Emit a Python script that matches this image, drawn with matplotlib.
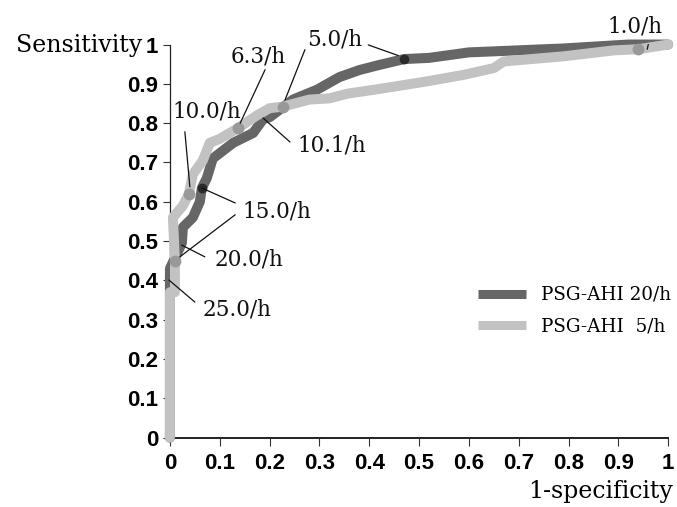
import matplotlib
matplotlib.use("Agg")
import matplotlib.pyplot as plt

# ROC curve points (1-specificity, sensitivity)
fpr_20 = [0.0, 0.0, 0.0, 0.0, 0.024, 0.026, 0.046, 0.06, 0.064, 0.074, 0.086, 0.127, 0.167, 0.187,
          0.2, 0.247, 0.295, 0.34, 0.38, 0.42, 0.47, 0.52, 0.60, 0.79, 0.92, 1.0]
tpr_20 = [0.0, 0.37, 0.40, 0.43, 0.495, 0.535, 0.56, 0.60, 0.635, 0.66, 0.71, 0.75, 0.775, 0.81,
          0.815, 0.86, 0.885, 0.917, 0.935, 0.948, 0.963, 0.966, 0.98, 0.99, 1.0, 1.0]

fpr_5 = [0.0, 0.0, 0.01, 0.01, 0.006, 0.026, 0.038, 0.046, 0.066, 0.08, 0.10, 0.136, 0.175, 0.2,
         0.226, 0.28, 0.32, 0.356, 0.41, 0.51, 0.59, 0.65, 0.67, 0.79, 0.89, 0.94, 1.0]
tpr_5 = [0.0, 0.37, 0.37, 0.45, 0.56, 0.59, 0.62, 0.67, 0.705, 0.75, 0.76, 0.787, 0.82, 0.838,
         0.842, 0.86, 0.863, 0.875, 0.885, 0.905, 0.923, 0.94, 0.957, 0.97, 0.985, 0.988, 1.0]

# marked cut-offs
cut_5_x = [0.01, 0.038, 0.136, 0.226, 0.94]
cut_5_y = [0.45, 0.62, 0.787, 0.842, 0.988]
cut_20_x = [0.064, 0.47]
cut_20_y = [0.635, 0.963]

# labels: text, left x, baseline y
labels = ["1.0/h", "5.0/h", "6.3/h", "10.0/h", "10.1/h", "15.0/h", "20.0/h", "25.0/h"]
label_x = [0.878, 0.275, 0.121, 0.006, 0.255, 0.145, 0.090, 0.066]
label_y = [1.030, 0.997, 0.953, 0.814, 0.727, 0.559, 0.437, 0.312]

# leader lines: start -> end
lead_x0 = [0.958, 0.231, 0.458, 0.141, 0.040, 0.187, 0.064, 0.020, 0.0235, -0.002]
lead_y0 = [0.988, 0.859, 0.972, 0.800, 0.638, 0.813, 0.635, 0.460, 0.490, 0.401]
lead_x1 = [0.960, 0.271, 0.398, 0.191, 0.030, 0.241, 0.131, 0.131, 0.070, 0.050]
lead_y1 = [1.000, 0.987, 0.999, 0.936, 0.778, 0.752, 0.597, 0.567, 0.460, 0.345]

dark = "#666666"
light = "#c2c2c2"

fig = plt.figure(figsize=(6.77, 5.07), dpi=100)
ax = fig.add_axes([0.251, 0.1367, 0.736, 0.7755])

ax.plot(fpr_20, tpr_20, color=dark, lw=7.2, solid_capstyle="round", solid_joinstyle="round",
        clip_on=False, label="PSG-AHI 20/h", zorder=2)
ax.plot(fpr_5, tpr_5, color=light, lw=7.2, solid_capstyle="round", solid_joinstyle="round",
        clip_on=False, label="PSG-AHI  5/h", zorder=3)
ax.plot(cut_5_x, cut_5_y, "o", color="#999999", ms=8.5, mew=0, clip_on=False, zorder=4)
ax.plot(cut_20_x, cut_20_y, "o", color="#2a2a2a", ms=7, mew=0, clip_on=False, zorder=4)

for x0, y0, x1, y1 in zip(lead_x0, lead_y0, lead_x1, lead_y1):
    ax.annotate("", xy=(x0, y0), xytext=(x1, y1), annotation_clip=False,
                arrowprops=dict(arrowstyle="-", lw=0.9, color="#111111", shrinkA=0, shrinkB=0),
                zorder=5)
for t, x, y in zip(labels, label_x, label_y):
    ax.text(x, y, t, family="DejaVu Serif", fontsize=15.5, ha="left", va="baseline", color="#111111")

ax.set_xlim(0, 1)
ax.set_ylim(0, 1)
ticks = [0, 0.1, 0.2, 0.3, 0.4, 0.5, 0.6, 0.7, 0.8, 0.9, 1]
tick_labels = ["0", "0.1", "0.2", "0.3", "0.4", "0.5", "0.6", "0.7", "0.8", "0.9", "1"]
ax.set_xticks(ticks)
ax.set_xticklabels(tick_labels)
ax.set_yticks(ticks)
ax.set_yticklabels(tick_labels)
for lab in ax.get_xticklabels() + ax.get_yticklabels():
    lab.set_family("Liberation Sans")
    lab.set_fontweight("bold")
    lab.set_fontsize(16)
ax.tick_params(axis="y", length=5, width=0.8, pad=3.5, color="#333333")
ax.tick_params(axis="x", length=6, width=0.8, pad=5, color="#333333")
ax.spines["top"].set_visible(False)
ax.spines["right"].set_visible(False)
ax.spines["left"].set_linewidth(0.9)
ax.spines["bottom"].set_linewidth(1.4)
ax.spines["left"].set_color("#222222")
ax.spines["bottom"].set_color("#222222")

fig.text(142 / 677, (507 - 52) / 507, "Sensitivity", family="DejaVu Serif", fontsize=17,
         ha="right", va="baseline")
fig.text(673 / 677, (507 - 498) / 507, "1-specificity", family="DejaVu Serif", fontsize=17,
         ha="right", va="baseline")

leg = ax.legend(loc="upper left", bbox_to_anchor=(0.619, 0.386), frameon=False, borderpad=0,
                borderaxespad=0, handlelength=2.6, handletextpad=0.8, labelspacing=0.75,
                prop={"family": "DejaVu Serif", "size": 13.2})
for h in leg.get_lines():
    h.set_linewidth(6.5)
    h.set_solid_capstyle("butt")

fig.savefig("out.png", dpi=100)
